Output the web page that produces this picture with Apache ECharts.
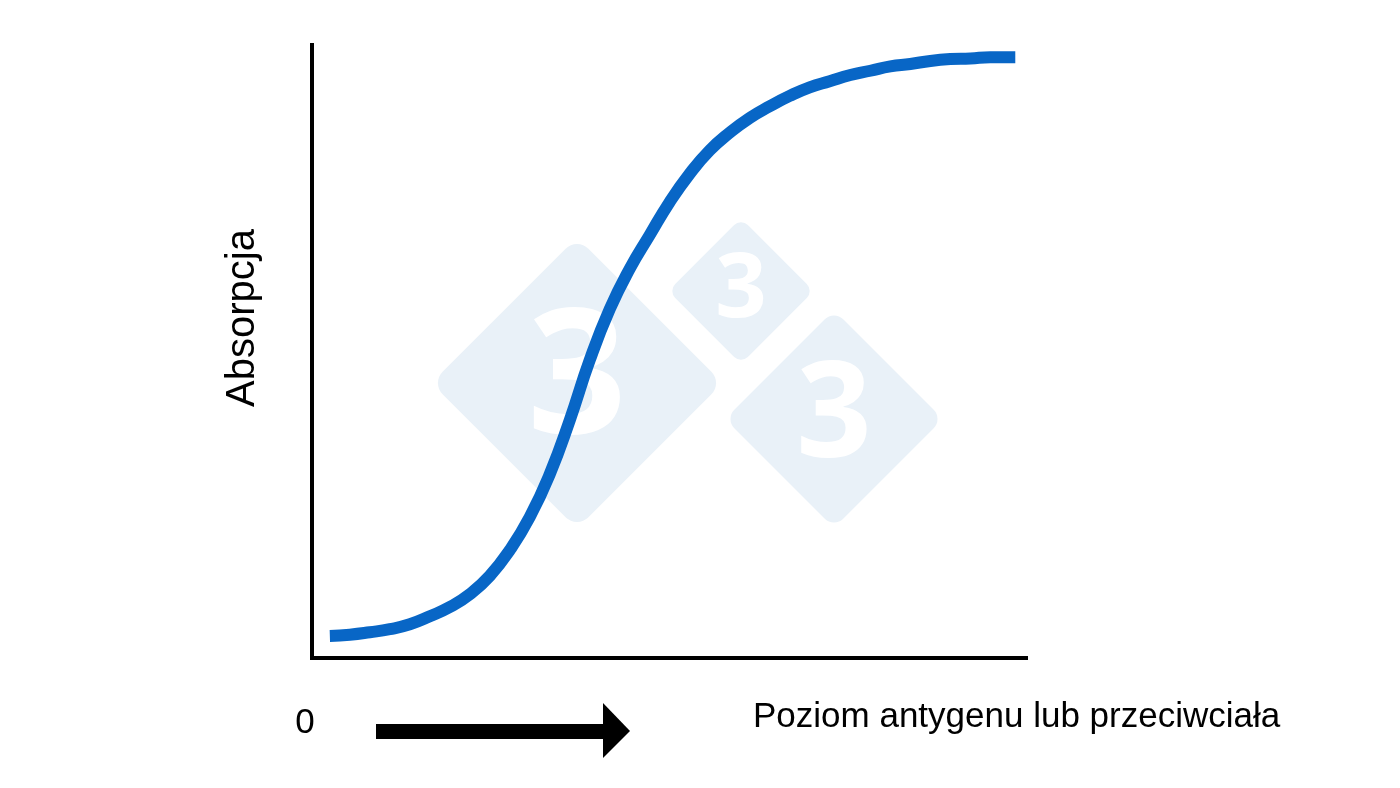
<!DOCTYPE html>
<html>
<head>
<meta charset="utf-8">
<script src="https://cdn.jsdelivr.net/npm/echarts@6/dist/echarts.min.js"></script>
<style>
html,body{margin:0;padding:0;background:#fff;}
#chart{width:1400px;height:788px;}
</style>
</head>
<body>
<div id="chart"></div>
<script>
// Level of antigen/antibody (arbitrary units, 0-100)
const xValues = [2.5, 5.3, 8.1, 10.9, 13.7, 16.5, 19.3, 22.1, 24.9, 27.7, 30.5, 33.3, 36.1, 38.9, 41.7, 44.5, 47.3, 50.1, 52.9, 55.7, 58.5, 61.3, 64.1, 66.9, 69.7, 72.5, 75.4, 78.2, 81.0, 83.8, 86.6, 89.4, 92.2, 95.0, 98.5];
// Absorbance (arbitrary units, 0-100)
const yValues = [3.6, 3.8, 4.2, 4.7, 5.5, 6.8, 8.3, 10.4, 13.4, 17.6, 23.0, 30.0, 38.8, 48.6, 56.9, 63.5, 69.0, 74.4, 79.0, 82.8, 85.7, 88.1, 90.0, 91.7, 93.1, 94.1, 95.1, 95.8, 96.5, 96.9, 97.4, 97.7, 97.8, 98.0, 98.0];

const yTitle = 'Absorpcja';
const xTitle = 'Poziom antygenu lub przeciwciała';
const zeroLabel = '0';

const points = xValues.map((x, i) => [x, yValues[i]]);

const chart = echarts.init(document.getElementById('chart'));
const font = '"Liberation Sans", Arial, sans-serif';
const wmColor = '#e9f1f8';

function diamond(cx, cy, side, r, fs) {
  return [
    { type: 'rect', x: cx, y: cy, rotation: Math.PI / 4, z: 0, silent: true,
      shape: { x: -side / 2, y: -side / 2, width: side, height: side, r: r },
      style: { fill: wmColor } },
    { type: 'text', x: cx, y: cy, z: 0, silent: true,
      style: { text: '3', fill: '#ffffff', font: 'bold ' + fs + 'px "Open Sans", "Noto Sans", sans-serif',
        textAlign: 'center', textVerticalAlign: 'middle' } }
  ];
}

chart.setOption({
  animation: false,
  backgroundColor: '#ffffff',
  grid: { left: 312, top: 45, width: 714, height: 613, containLabel: false },
  xAxis: {
    type: 'value', min: 0, max: 100,
    axisLine: { show: true, lineStyle: { color: '#000', width: 4, cap: 'square' } },
    axisTick: { show: false }, axisLabel: { show: false }, splitLine: { show: false }
  },
  yAxis: {
    type: 'value', min: 0, max: 100,
    axisLine: { show: true, lineStyle: { color: '#000', width: 4, cap: 'square' } },
    axisTick: { show: false }, axisLabel: { show: false }, splitLine: { show: false }
  },
  series: [{
    type: 'line',
    data: points,
    smooth: 0.5,
    showSymbol: false,
    lineStyle: { color: '#0866c6', width: 12, cap: 'butt', join: 'round' },
    z: 5
  }],
  graphic: [].concat(
    diamond(577, 383, 206, 16, 174),
    diamond(741, 291, 103, 10, 90),
    diamond(834, 419, 154, 13, 132),
    [
      { type: 'text', x: 243, y: 318, rotation: Math.PI / 2, silent: true,
        style: { text: yTitle, fill: '#000', font: '40px ' + font, textAlign: 'center', textVerticalAlign: 'middle' } },
      { type: 'text', x: 753, y: 717, silent: true,
        style: { text: xTitle, fill: '#000', font: '35px ' + font, textAlign: 'left', textVerticalAlign: 'middle' } },
      { type: 'text', x: 305, y: 723, silent: true,
        style: { text: zeroLabel, fill: '#000', font: '35px ' + font, textAlign: 'center', textVerticalAlign: 'middle' } },
      { type: 'rect', silent: true, shape: { x: 376, y: 724, width: 230, height: 15 }, style: { fill: '#000' } },
      { type: 'polygon', silent: true, shape: { points: [[603, 703], [630, 731], [603, 758]] }, style: { fill: '#000' } }
    ]
  )
});
</script>
</body>
</html>
